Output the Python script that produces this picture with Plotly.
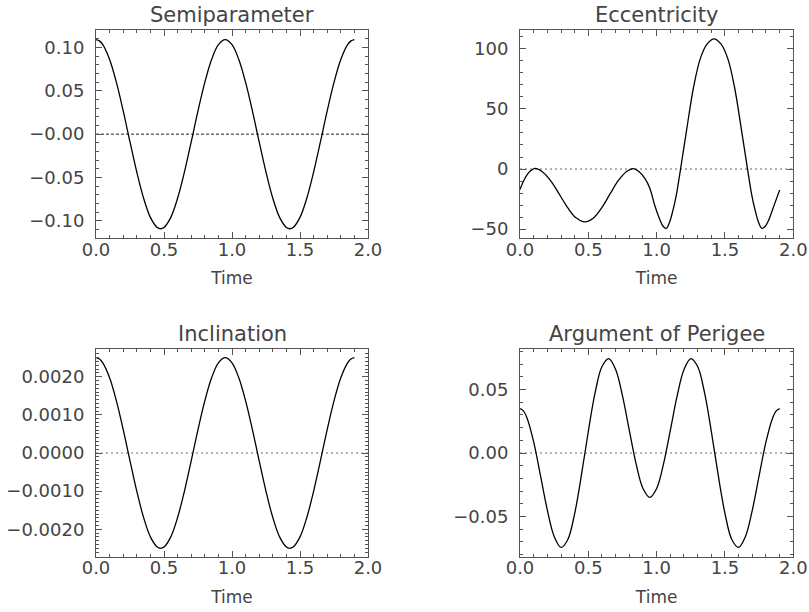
import plotly.graph_objects as go

# ---------------- data ----------------
time_semi = [0.0, 0.025, 0.05, 0.10, 0.15, 0.20, 0.25, 0.30, 0.35, 0.40, 0.45, 0.475, 0.50,
             0.55, 0.60, 0.65, 0.70, 0.75, 0.80, 0.85, 0.90, 0.95, 1.00, 1.05, 1.10,
             1.15, 1.20, 1.25, 1.30, 1.35, 1.40, 1.425, 1.45, 1.50, 1.55, 1.60, 1.65,
             1.70, 1.75, 1.80, 1.85, 1.875, 1.90]
semiparameter = [0.109, 0.1075, 0.1031, 0.0860, 0.0596, 0.0268, -0.0090, -0.0438, -0.0738,
                 -0.0959, -0.1075, -0.109, -0.1075, -0.0959, -0.0738, -0.0438, -0.0090,
                 0.0268, 0.0596, 0.0860, 0.1031, 0.109, 0.1031, 0.0860, 0.0596, 0.0268,
                 -0.0090, -0.0438, -0.0738, -0.0959, -0.1075, -0.109, -0.1075, -0.0959,
                 -0.0738, -0.0438, -0.0090, 0.0268, 0.0596, 0.0860, 0.1031, 0.1075, 0.109]
inclination = [0.00250, 0.002466, 0.002365, 0.001973, 0.001367, 0.000615, -0.000206,
               -0.001005, -0.001693, -0.002200, -0.002466, -0.00250, -0.002466, -0.002200,
               -0.001693, -0.001005, -0.000206, 0.000615, 0.001367, 0.001973, 0.002365,
               0.00250, 0.002365, 0.001973, 0.001367, 0.000615, -0.000206, -0.001005,
               -0.001693, -0.002200, -0.002466, -0.00250, -0.002466, -0.002200, -0.001693,
               -0.001005, -0.000206, 0.000615, 0.001367, 0.001973, 0.002365, 0.002466,
               0.00250]

time_ecc = [0.0, 0.025, 0.05, 0.08, 0.11, 0.17, 0.23, 0.29, 0.35, 0.41, 0.476, 0.54, 0.60,
            0.66, 0.72, 0.78, 0.829, 0.87, 0.915, 0.95, 0.988, 1.025, 1.047, 1.07, 1.095,
            1.12, 1.145, 1.175, 1.22, 1.27, 1.32, 1.37, 1.42, 1.47, 1.52, 1.57, 1.62, 1.665,
            1.695, 1.72, 1.745, 1.77, 1.795, 1.82, 1.86, 1.90]
eccentricity = [-17.0, -10.2, -5.0, -1.3, 0.5, -2.9, -10.7, -21.4, -32.3, -40.6, -44.0,
                -40.5, -31.9, -20.5, -9.5, -2.0, 0.4, -2.0, -8.0, -16.0, -31.0, -42.5, -47.6,
                -49.4, -44.0, -34.0, -21.0, 0.0, 33.0, 68.0, 92.0, 104.0, 108.3, 104.0, 92.0,
                68.0, 33.0, 0.0, -21.0, -34.0, -44.0, -49.4, -47.6, -42.5, -30.0, -17.5]

time_aop = [0.0, 0.025, 0.05, 0.10, 0.15, 0.20, 0.25, 0.30, 0.35, 0.40, 0.45, 0.50, 0.55,
            0.60, 0.65, 0.70, 0.75, 0.80, 0.85, 0.90, 0.95, 1.00, 1.05, 1.10, 1.15, 1.20,
            1.25, 1.30, 1.35, 1.40, 1.45, 1.50, 1.55, 1.60, 1.65, 1.70, 1.75, 1.80, 1.85,
            1.875, 1.90]
arg_perigee = [0.0350, 0.0332, 0.0280, 0.0088, -0.0178, -0.0450, -0.0657, -0.0744, -0.0681,
               -0.0477, -0.0171, 0.0171, 0.0477, 0.0681, 0.0744, 0.0657, 0.0450, 0.0178,
               -0.0088, -0.0280, -0.0350, -0.0280, -0.0088, 0.0178, 0.0450, 0.0657, 0.0744,
               0.0681, 0.0477, 0.0171, -0.0171, -0.0477, -0.0681, -0.0744, -0.0657, -0.0450,
               -0.0178, 0.0088, 0.0280, 0.0332, 0.0350]

titles = ["Semiparameter", "Eccentricity", "Inclination", "Argument of Perigee"]
x_ticks = [0.0, 0.5, 1.0, 1.5, 2.0]
x_ticktext = ["0.0", "0.5", "1.0", "1.5", "2.0"]
semi_ticks = [-0.10, -0.05, 0.0, 0.05, 0.10]
semi_ticktext = ["\u22120.10", "\u22120.05", "\u22120.00", "0.05", "0.10"]
ecc_ticks = [-50, 0, 50, 100]
ecc_ticktext = ["\u221250", "0", "50", "100"]
incl_ticks = [-0.0020, -0.0010, 0.0, 0.0010, 0.0020]
incl_ticktext = ["\u22120.0020", "\u22120.0010", "0.0000", "0.0010", "0.0020"]
aop_ticks = [-0.05, 0.0, 0.05]
aop_ticktext = ["\u22120.05", "0.00", "0.05"]

# ---------------- layout geometry ----------------
W, H = 809, 612
FONT = "DejaVu Sans"
TXT = "#444444"
AX = "#555555"

panels = [
    dict(t=time_semi, y=semiparameter, title=titles[0], yr=[-0.12, 0.12],
         tv=semi_ticks, tt=semi_ticktext, minor=0.01, box=(96, 368, 30, 238.3), zdash="3px,2px", zcol="#222"),
    dict(t=time_ecc, y=eccentricity, title=titles[1], yr=[-57.6, 115.6],
         tv=ecc_ticks, tt=ecc_ticktext, minor=10, box=(520, 793.3, 30, 238.3), zdash="2px,3px", zcol="#666"),
    dict(t=time_semi, y=inclination, title=titles[2], yr=[-0.00272, 0.00272],
         tv=incl_ticks, tt=incl_ticktext, minor=0.0001, box=(96, 368, 349.3, 556.7), zdash="2px,3px", zcol="#666"),
    dict(t=time_aop, y=arg_perigee, title=titles[3], yr=[-0.0817, 0.0817],
         tv=aop_ticks, tt=aop_ticktext, minor=0.01, box=(520, 793.3, 349.3, 556.7), zdash="2px,3px", zcol="#666"),
]

fig = go.Figure()
layout = dict(
    width=W, height=H, margin=dict(l=0, r=0, t=0, b=0, autoexpand=False),
    paper_bgcolor="white", plot_bgcolor="white", showlegend=False,
    font=dict(family=FONT, color=TXT, size=18),
)
annotations = []
shapes = []

for i, p in enumerate(panels, start=1):
    sfx = "" if i == 1 else str(i)
    xa, ya = "x" + sfx, "y" + sfx
    x0, x1, y0, y1 = p["box"]
    fig.add_trace(go.Scatter(
        x=p["t"], y=p["y"], mode="lines", xaxis=xa, yaxis=ya,
        line=dict(color="black", width=1.3, shape="spline", smoothing=1.0),
        hoverinfo="skip"))
    common_axis = dict(
        showline=True, linecolor=AX, linewidth=1, mirror="allticks",
        ticks="inside", ticklen=6, tickcolor=AX, tickwidth=1,
        showgrid=False, zeroline=False, automargin=False,
        tickfont=dict(family=FONT, size=18, color=TXT),
    )
    layout["xaxis" + sfx] = dict(
        common_axis, domain=[x0 / W, x1 / W], anchor=ya, range=[0, 2],
        tickmode="array", tickvals=x_ticks, ticktext=x_ticktext,
        minor=dict(dtick=0.1, tick0=0, ticks="inside", ticklen=3, tickcolor=AX, showgrid=False),
        ticklabelstandoff=-5,
        title=dict(text="Time", font=dict(family=FONT, size=17, color=TXT), standoff=13),
    )
    layout["yaxis" + sfx] = dict(
        common_axis, domain=[1 - y1 / H, 1 - y0 / H], anchor=xa, range=p["yr"],
        tickmode="array", tickvals=p["tv"], ticktext=p["tt"],
        minor=dict(dtick=p["minor"], tick0=0, ticks="inside", ticklen=3, tickcolor=AX, showgrid=False),
        ticklabelstandoff=7,
    )
    shapes.append(dict(type="line", xref=xa + " domain", x0=0, x1=1, yref=ya, y0=0, y1=0,
                       line=dict(color=p["zcol"], width=1, dash=p["zdash"]), layer="below"))
    annotations.append(dict(text=p["title"], xref="paper", yref="paper",
                            x=(x0 + x1) / 2 / W, y=1 - y0 / H, xanchor="center", yanchor="bottom",
                            yshift=1, showarrow=False,
                            font=dict(family=FONT, size=21, color=TXT)))

layout["annotations"] = annotations
layout["shapes"] = shapes
fig.update_layout(**layout)
fig.write_html("out.html", config={"displayModeBar": False},
               post_script="document.body.style.margin='0';document.body.style.padding='0';")
